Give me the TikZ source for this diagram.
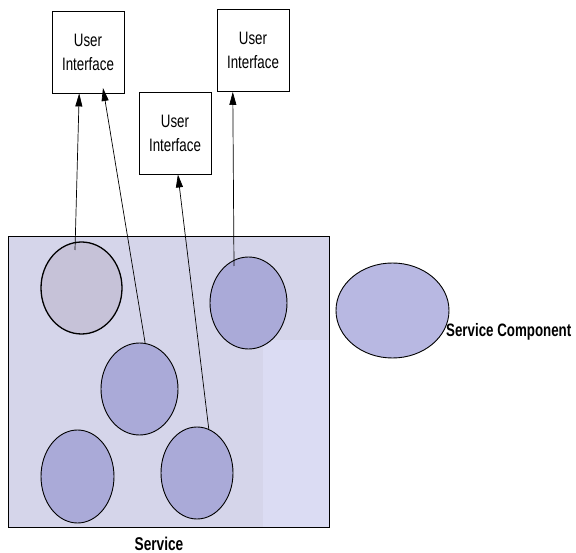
\documentclass[tikz,border=0pt]{standalone}
\usepackage{fontspec}
\usetikzlibrary{shapes.geometric,arrows.meta}
\newfontfamily\narrowsans[FakeStretch=0.74]{Liberation Sans}
\definecolor{svcfill}{RGB}{213,213,234}
\definecolor{svclight}{RGB}{219,220,243}
\definecolor{compfill}{RGB}{170,170,216}
\definecolor{grayfill}{RGB}{198,194,216}
\definecolor{outfill}{RGB}{184,184,226}
\begin{document}
\begin{tikzpicture}[x=1pt,y=-1pt,
	uibox/.style={draw,line width=0.9pt,fill=white,minimum width=72pt,minimum height=82pt,align=center,inner sep=0pt,font=\narrowsans\fontsize{18}{24}\selectfont},
	comp/.style={ellipse,draw,line width=0.9pt,fill=compfill,inner sep=0pt},
	link/.style={-{Triangle[length=13pt,width=7pt]},line width=0.7pt}]
	\useasboundingbox (0,0) rectangle (576,553);
	% the service
	\draw[line width=0.9pt,fill=svcfill] (8,236) rectangle (329,527);
	\fill[svclight] (263,340) rectangle (328.5,526.5);
	\node[font=\narrowsans\fontsize{18.5}{22}\selectfont\bfseries] (svc) at (159,544) {Service};
	% components
	\node[comp,fill=grayfill,line width=1.3pt,minimum width=81pt,minimum height=92pt] (c1) at (81.5,288) {};
	\node[comp,minimum width=77pt,minimum height=92pt] (c2) at (139.5,389) {};
	\node[comp,minimum width=77pt,minimum height=92pt] (c3) at (248.5,303) {};
	\node[comp,minimum width=73pt,minimum height=93pt] (c4) at (77.5,476.5) {};
	\node[comp,minimum width=72pt,minimum height=92pt] (c5) at (197,473) {};
	\node[comp,fill=outfill,minimum width=113pt,minimum height=95pt] (cout) at (392.5,310.5) {};
	\node[anchor=west,inner sep=0pt,font=\narrowsans\fontsize{18}{22}\selectfont\bfseries] (lbl) at (446,332) {Service Component};
	% user interfaces
	\node[uibox] (ui1) at (88,52) {User\\Interface};
	\node[uibox] (ui2) at (175,133) {User\\Interface};
	\node[uibox] (ui3) at (253,50.5) {User\\Interface};
	\coordinate (s1) at (75,250);
	\coordinate (s4) at (234,266);
	\coordinate (t2) at (103,88);
	\draw[link] (s1) -- (ui1.-102);
	\draw[link] (c2.83) -- (t2);
	\draw[link] (c5.75) -- (ui2.-86);
	\draw[link] (s4) -- (ui3.-116);
\end{tikzpicture}
\end{document}
